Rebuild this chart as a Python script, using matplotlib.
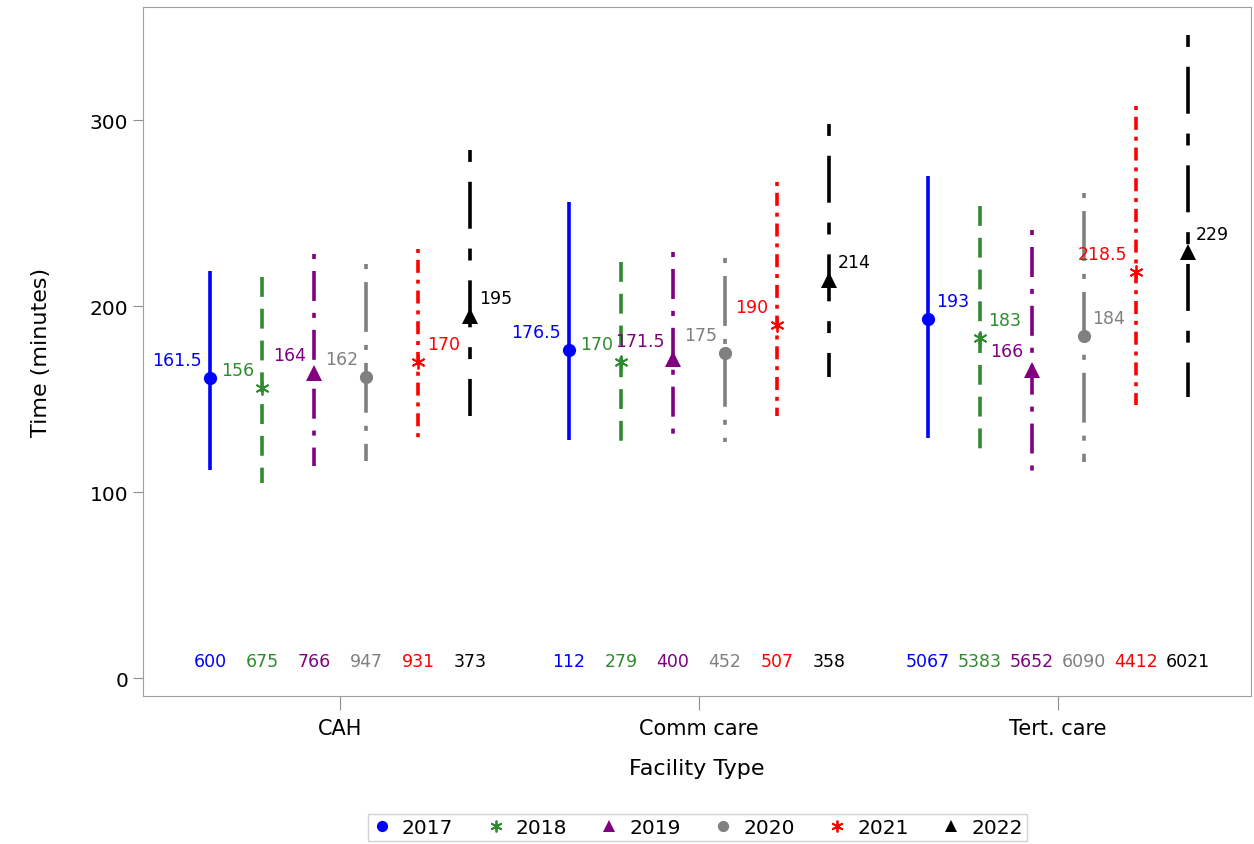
import matplotlib.pyplot as plt
import numpy as np

facilities = ['CAH', 'Comm care', 'Tert. care']
years = ['2017', '2018', '2019', '2020', '2021', '2022']

# median, lower, upper per year (rows) and facility (columns)
medians = [
    [161.5, 176.5, 193],
    [156, 170, 183],
    [164, 171.5, 166],
    [162, 175, 184],
    [170, 190, 218.5],
    [195, 214, 229],
]
lowers = [
    [112, 128, 129],
    [105, 125, 118],
    [114, 129, 106],
    [117, 127, 116],
    [126, 141, 147],
    [141, 162, 151],
]
uppers = [
    [219, 256, 270],
    [216, 224, 254],
    [228, 229, 241],
    [223, 226, 261],
    [231, 267, 308],
    [284, 298, 346],
]
counts = [
    [600, 112, 5067],
    [675, 279, 5383],
    [766, 400, 5652],
    [947, 452, 6090],
    [931, 507, 4412],
    [373, 358, 6021],
]
# side of the median label: 'l' left, 'r' right
sides = [
    ['l', 'l', 'r'],
    ['l', 'l', 'r'],
    ['l', 'l', 'l'],
    ['l', 'l', 'r'],
    ['r', 'l', 'l'],
    ['r', 'r', 'r'],
]

colors = ['#0000FF', '#2E8B2E', '#800080', '#808080', '#FF0000', '#000000']
markers = ['o', (6, 2, 0), '^', 'o', (6, 2, 0), '^']
msizes = [9.5, 10, 11, 9.5, 10, 11]
dashes = [None, (5.5, 3.3), (1.4, 3.3, 8.3, 3.3), (1.4, 3.6, 13.8, 3.6),
          (1.1, 1.9, 3.6, 1.9), (3.3, 5.5, 13, 5.5)]

fig = plt.figure(figsize=(12.54, 8.45), dpi=100)
ax = fig.add_axes([0.114, 0.175, 0.884, 0.8155])

step = 0.145
x0 = np.arange(len(facilities))
for i, yr in enumerate(years):
    xs = x0 + (i - 2.5) * step
    for j in range(len(facilities)):
        # drawn top-down so the dash pattern starts at the upper end
        ln, = ax.plot([xs[j], xs[j]], [uppers[i][j], lowers[i][j]],
                      color=colors[i], lw=2.6, solid_capstyle='butt',
                      dash_capstyle='butt')
        if dashes[i] is not None:
            ln.set_dashes(dashes[i])
        if sides[i][j] == 'l':
            off, ha = -6, 'right'
        else:
            off, ha = 6, 'left'
        ax.annotate(f'{medians[i][j]:g}', (xs[j], medians[i][j]),
                    xytext=(off, 13), textcoords='offset points',
                    ha=ha, va='center', color=colors[i], fontsize=12.5)
        ax.text(xs[j], 9, str(counts[i][j]), ha='center', va='center',
                color=colors[i], fontsize=12.5)
    star = markers[i] == (6, 2, 0)
    ax.plot(xs, medians[i], linestyle='none', marker=markers[i],
            color=colors[i], markersize=msizes[i],
            markeredgewidth=1.3 if star else 0, label=yr, zorder=3)

ax.set_xlim(-0.55, 2.54)
ax.set_ylim(-9.7, 361)
ax.set_xticks(x0)
ax.set_xticklabels(facilities, fontsize=15)
ax.set_yticks([0, 100, 200, 300])
ax.tick_params(axis='y', labelsize=14.5, length=7, color='#909090')
ax.tick_params(axis='x', length=10, color='#909090', pad=6)
ax.set_xlabel('Facility Type', fontsize=16, labelpad=14)
ax.set_ylabel('Time (minutes)', fontsize=16, labelpad=28)
for s in ax.spines.values():
    s.set_color('#A0A0A0')

ax.legend(loc='upper center', bbox_to_anchor=(0.5, -0.157), ncol=6,
          fontsize=14.5, frameon=True, fancybox=False, edgecolor='#C8C8C8',
          handletextpad=0.5, columnspacing=1.6, borderpad=0.2,
          handlelength=1.0, markerscale=0.85)

fig.savefig('out.png', dpi=100)
